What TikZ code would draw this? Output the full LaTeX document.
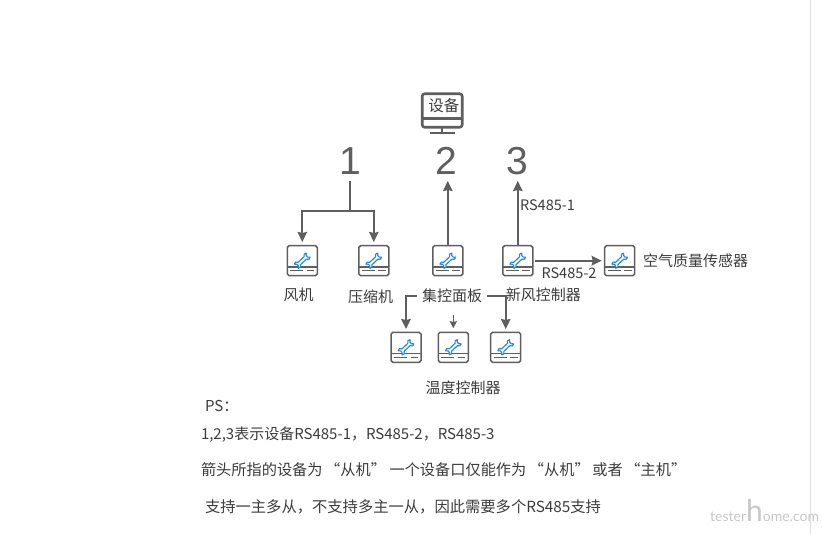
\documentclass[tikz,border=0pt]{standalone}
\usepackage{fontspec}
\setmainfont{Noto Sans CJK SC}
\newfontfamily\digitfont{Liberation Sans}
\newfontfamily\markfont{Lato}
\usetikzlibrary{arrows.meta}
\definecolor{ln}{HTML}{5F5F5F}
\definecolor{tx}{HTML}{3C3C3C}
\definecolor{wr}{HTML}{1E87F0}
\tikzset{
  x=1pt,y=-1pt,
  lbl/.style={font=\fontsize{15}{15}\selectfont,text=tx,inner sep=0pt,outer sep=0pt,anchor=center},
  para/.style={font=\fontsize{15}{15}\selectfont,text=tx,inner sep=0pt,outer sep=0pt,anchor=west},
  digit/.style={font=\digitfont\fontsize{39}{39}\selectfont,text=ln,inner sep=0pt,outer sep=0pt,minimum height=40pt},
  arr/.style={draw=ln,line width=2pt,-{Stealth[width=9.5pt,length=10pt,inset=1pt]}},
  link/.style={draw=ln,line width=2pt},
  devbox/.style={draw=ln,line width=1.5pt,rounded corners=1.8pt,minimum size=30pt,inner sep=0pt,outer sep=0pt,fill=white,
    path picture={
      \draw[ln,line width=1.3pt] ([yshift=-6.3pt]path picture bounding box.center) ++(-15,0) -- ++(30,0);
      \draw[ln,line width=1.2pt] ([yshift=-10pt]path picture bounding box.center) ++(-12,0) -- ++(13,0) ++(3.5,0) -- ++(7.5,0);
      \begin{scope}[shift={([yshift=3.7pt]path picture bounding box.center)},x={(0.49pt,0.46pt)},y={(0.56pt,-0.6pt)},rounded corners=0pt]
        \draw[wr,line width=1.15pt,fill=white,line join=round]
          (-6,2) -- (6,2) .. controls (7,4.5) and (10,5) .. (12,3.5) -- (9.5,1.2) -- (9.5,-1.2) -- (12,-3.5)
          .. controls (10,-5) and (7,-4.5) .. (6,-2) -- (-6,-2)
          .. controls (-7,-4.5) and (-10,-5) .. (-12,-3.5) -- (-9.5,-1.2) -- (-9.5,1.2) -- (-12,3.5)
          .. controls (-10,5) and (-7,4.5) .. (-6,2) -- cycle;
      \end{scope}
    }},
}
\newcommand{\qopen}{\hspace{2.6pt}“}
\newcommand{\qclose}{”\hspace{2.6pt}}
\begin{document}
\begin{tikzpicture}
\useasboundingbox (0,0) rectangle (822,534);
\fill[white] (0,0) rectangle (822,534);
\draw[draw=black!12,line width=1pt] (810.7,0) -- (810.7,534);

% monitor
\node[draw=ln,line width=2.6pt,rounded corners=2.5pt,minimum width=40pt,minimum height=33.5pt,inner sep=0pt,outer sep=0pt] (mon) at (442.2,110.5) {};
\draw[ln,line width=2.4pt] (mon.west |- 0,118.5) -- (mon.east |- 0,118.5);
\node[lbl,font=\fontsize{15.5}{16}\selectfont] (monlabel) at (443.8,106) {设备};
\coordinate (footl) at (430,133);
\coordinate (footr) at (455,133);
\draw[ln,line width=2.4pt] (mon.south) -- (442.2,133);
\draw[ln,line width=2.2pt] (footl) -- (footr);

% digits
\node[digit] (one) at (350,161) {1};
\node[digit] (two) at (446.8,161) {2};
\node[digit] (three) at (517,161) {3};

% devices
\node[devbox] (d1) at (302.3,260.7) {};
\node[devbox] (d2) at (373.8,260.7) {};
\node[devbox] (d3) at (447.8,260.7) {};
\node[devbox] (d4) at (517.8,260.7) {};
\node[devbox] (air) at (619.7,260.7) {};
\node[devbox] (t1) at (406,347.3) {};
\node[devbox] (t2) at (453.3,347.3) {};
\node[devbox] (t3) at (505.7,347.3) {};

% labels
\node[lbl] (fan) at (298.6,295) {风机};
\node[lbl] (comp) at (370.5,296.7) {压缩机};
\node[lbl,inner xsep=5pt] (board) at (452,296) {集控面板};
\node[lbl] (fresh) at (543.3,295) {新风控制器};
\node[lbl] (temp) at (463,387.3) {温度控制器};
\node[lbl] (airlbl) at (695.5,260.7) {空气质量传感器};
\node[lbl,font=\fontsize{14.5}{15}\selectfont] (rs1) at (547.5,205) {RS485-1};
\node[lbl,font=\fontsize{14.5}{15}\selectfont] (rs2) at (569,273.3) {RS485-2};

% connectors
\coordinate (junc) at (350,211);
\draw[link] (one.south) -- (junc);
\draw[arr,shorten >=3.7pt] (junc) -| (d1.north);
\draw[arr,shorten >=3.7pt] (junc) -| (d2.north);
\draw[arr] (d3.north) -- (d3.north |- two.south);
\draw[arr] (d4.north) -- (d4.north |- three.south);
\draw[arr,shorten <=2pt,shorten >=3pt] (d4.east) -- (air.west);
\draw[arr,shorten >=3.3pt] (board.west) -| (t1.north);
\draw[arr,shorten >=3.3pt] (board.east) -| (t3.north);
\coordinate (mid) at (453.3,315);
\draw[draw=ln,line width=1.6pt,-{Stealth[width=7pt,length=7pt,inset=0.6pt]},shorten >=4pt] (mid) -- (t2.north);

% text block
\node[para] (p1) at (205,406) {PS：};
\node[para] (p2) at (201,435) {1,2,3表示设备RS485-1，RS485-2，RS485-3};
\node[para,font=\fontsize{15.2}{15}\selectfont] (p3) at (201,470) {箭头所指的设备为\qopen 从机\qclose\hspace{1pt}一个设备口仅能作为\qopen 从机\qclose 或者\qopen 主机\qclose};
\node[para,font=\fontsize{15.3}{15}\selectfont] (p4) at (205,507) {支持一主多从，不支持多主一从，因此需要多个RS485支持};

% watermark
\node[inner sep=0pt,anchor=base west,text=black!22,font=\markfont\fontsize{14}{14}\selectfont] (mark) at (710,521) {tester{\fontsize{30}{30}\selectfont h}ome.com};
\end{tikzpicture}
\end{document}
